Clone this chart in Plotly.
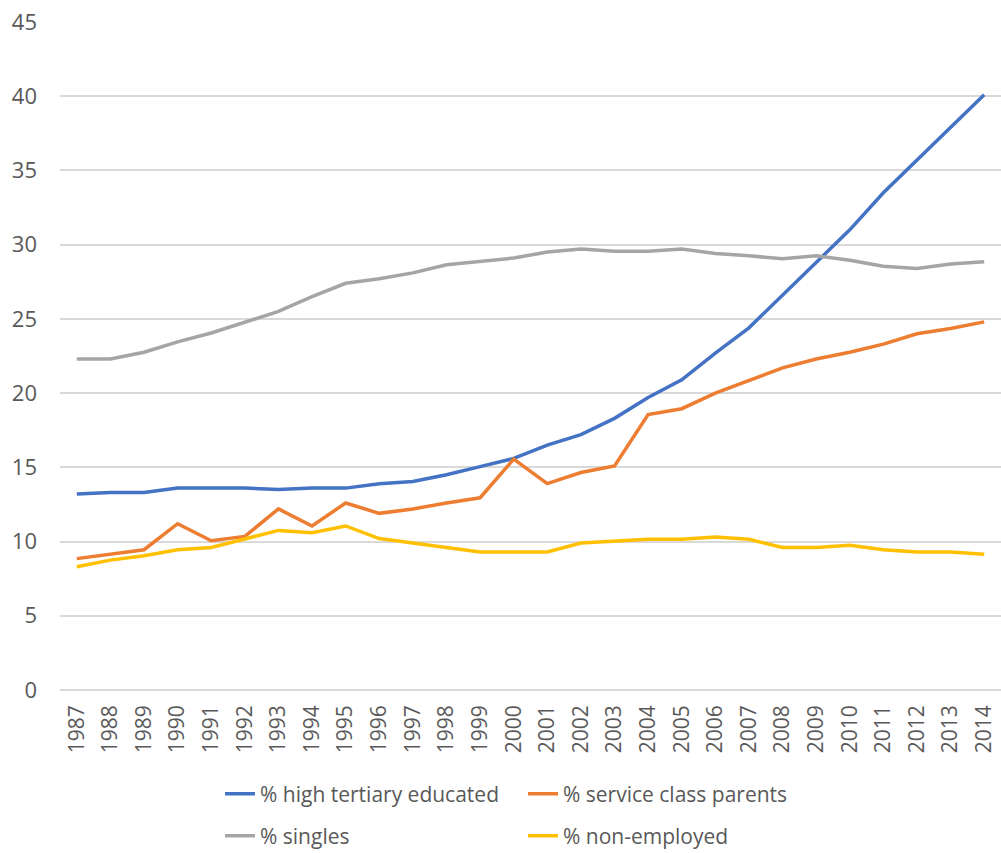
import plotly.graph_objects as go

years = [str(y) for y in range(1987, 2015)]

high_tertiary = [13.2, 13.3, 13.3, 13.6, 13.6, 13.6, 13.5, 13.6, 13.6, 13.9,
                 14.05, 14.5, 15.05, 15.6, 16.5, 17.2, 18.3, 19.7, 20.9, 22.7,
                 24.4, 26.6, 28.8, 31.0, 33.5, 35.7, 37.9, 40.1]
service_class = [8.85, 9.15, 9.45, 11.2, 10.05, 10.35, 12.2, 11.05, 12.6, 11.9,
                 12.2, 12.6, 12.95, 15.55, 13.9, 14.65, 15.1, 18.55, 18.95, 20.0,
                 20.85, 21.7, 22.3, 22.75, 23.3, 24.0, 24.35, 24.8]
singles = [22.3, 22.3, 22.75, 23.45, 24.05, 24.8, 25.5, 26.5, 27.4, 27.7,
           28.1, 28.65, 28.85, 29.1, 29.5, 29.7, 29.55, 29.55, 29.7, 29.4,
           29.25, 29.05, 29.25, 28.95, 28.55, 28.4, 28.7, 28.85]
non_employed = [8.3, 8.75, 9.05, 9.45, 9.6, 10.2, 10.75, 10.6, 11.05, 10.2,
                9.9, 9.6, 9.3, 9.3, 9.3, 9.9, 10.05, 10.15, 10.15, 10.3,
                10.15, 9.6, 9.6, 9.75, 9.45, 9.3, 9.3, 9.15]

y_ticks = [0, 5, 10, 15, 20, 25, 30, 35, 40, 45]

series = [
    ("% high tertiary educated", high_tertiary, "#4472C4", "legend"),
    ("% service class parents", service_class, "#ED7D31", "legend"),
    ("% singles", singles, "#A5A5A5", "legend2"),
    ("% non-employed", non_employed, "#FFC000", "legend2"),
]

fig = go.Figure()
for name, vals, color, leg in series:
    fig.add_trace(go.Scatter(
        x=years, y=vals, name=name, mode="lines",
        line=dict(color=color, width=3.5),
        legend=leg,
    ))

font_family = "Open Sans"
txt_color = "#595959"

legend_common = dict(
    orientation="h",
    xref="container", yref="container",
    xanchor="left", yanchor="middle",
    font=dict(family=font_family, size=21, color=txt_color),
    bgcolor="rgba(0,0,0,0)",
    entrywidth=258, entrywidthmode="pixels",
    traceorder="normal",
)

fig.update_layout(
    width=1001, height=853,
    margin=dict(l=60, r=0, t=22, b=163, autoexpand=False),
    paper_bgcolor="white", plot_bgcolor="white",
    font=dict(family=font_family, color=txt_color),
    showlegend=True,
    legend=dict(x=220 / 1001, y=59 / 853, **legend_common),
    legend2=dict(x=220 / 1001, y=17 / 853, **legend_common),
    xaxis=dict(
        type="category",
        range=[-0.5, len(years) - 0.5],
        tickangle=-90,
        tickfont=dict(family=font_family, size=21, color=txt_color),
        showgrid=False, showline=False, zeroline=False,
        ticks="", ticklabelstandoff=10, automargin=False,
    ),
    yaxis=dict(
        range=[0, 45],
        tickvals=y_ticks,
        tickfont=dict(family=font_family, size=22, color=txt_color),
        showgrid=True, gridcolor="#D9D9D9", gridwidth=1.5,
        zeroline=True, zerolinecolor="#D9D9D9", zerolinewidth=1.5,
        showline=False, ticks="", ticklabelstandoff=22, automargin=False,
    ),
)

fig.write_html("out.html")
